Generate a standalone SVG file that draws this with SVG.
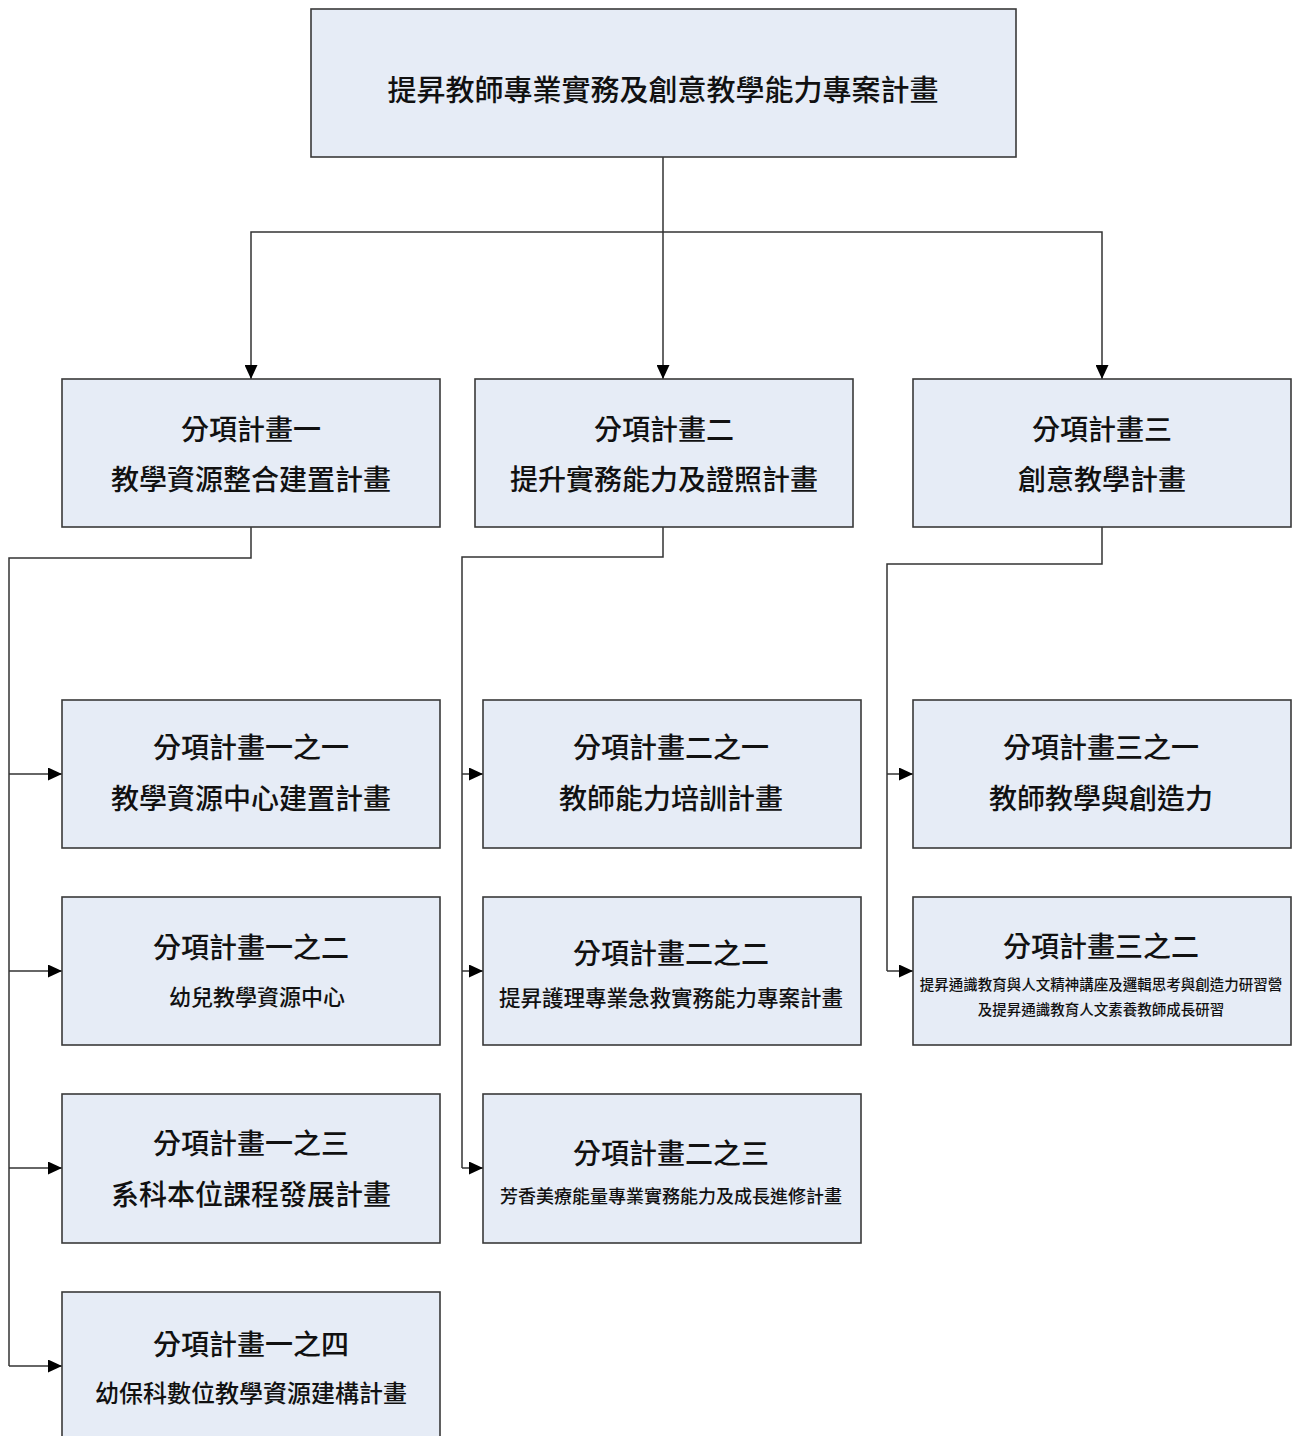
<svg xmlns="http://www.w3.org/2000/svg" width="1293" height="1436" viewBox="0 0 1293 1436">
<style>
.box{fill:#E6ECF6;stroke:#3a3a3a;stroke-width:1.6}
.t{font-family:"Noto Sans CJK TC","Noto Sans CJK SC",sans-serif;text-anchor:middle;dominant-baseline:central;fill:#111;font-weight:500}
.s29{font-size:29px}.s28{font-size:28px}.s24{font-size:24px}.s22{font-size:22px}.s21{font-size:21.5px}.s18{font-size:18px}.s14{font-size:14.5px}
.c{fill:none;stroke:#333;stroke-width:1.5}
</style>
<defs>
<marker id="ah" markerUnits="userSpaceOnUse" markerWidth="14" markerHeight="13" refX="14" refY="6.5" orient="auto">
<path d="M0,0 L14,6.5 L0,13 Z" fill="#000"/>
</marker>
</defs>
<g id="connectors">
<path class="c" d="M663,157 V379" marker-end="url(#ah)"/>
<path class="c" d="M663,232 H251 V379" marker-end="url(#ah)"/>
<path class="c" d="M663,232 H1102 V379" marker-end="url(#ah)"/>
<path class="c" d="M251,527 V558 H9 V1366"/>
<path class="c" d="M9,774 H62" marker-end="url(#ah)"/>
<path class="c" d="M9,971 H62" marker-end="url(#ah)"/>
<path class="c" d="M9,1168 H62" marker-end="url(#ah)"/>
<path class="c" d="M9,1366 H62" marker-end="url(#ah)"/>
<path class="c" d="M663,527 V557 H462 V1168"/>
<path class="c" d="M462,774 H483" marker-end="url(#ah)"/>
<path class="c" d="M462,971 H483" marker-end="url(#ah)"/>
<path class="c" d="M462,1168 H483" marker-end="url(#ah)"/>
<path class="c" d="M1102,527 V564 H887 V971"/>
<path class="c" d="M887,774 H913" marker-end="url(#ah)"/>
<path class="c" d="M887,971 H913" marker-end="url(#ah)"/>
</g>
<g id="root">
<rect class="box" x="311" y="9" width="705" height="148"/>
<text class="t s29" x="663" y="88">提昇教師專業實務及創意教學能力專案計畫</text>
</g>
<g id="p1">
<rect class="box" x="62" y="379" width="378" height="148"/>
<text class="t s28" x="251" y="428">分項計畫一</text>
<text class="t s28" x="251" y="478">教學資源整合建置計畫</text>
</g>
<g id="p2">
<rect class="box" x="475" y="379" width="378" height="148"/>
<text class="t s28" x="664" y="428">分項計畫二</text>
<text class="t s28" x="664" y="478">提升實務能力及證照計畫</text>
</g>
<g id="p3">
<rect class="box" x="913" y="379" width="378" height="148"/>
<text class="t s28" x="1102" y="428">分項計畫三</text>
<text class="t s28" x="1102" y="478">創意教學計畫</text>
</g>
<g id="p1-1">
<rect class="box" x="62" y="700" width="378" height="148"/>
<text class="t s28" x="251" y="746">分項計畫一之一</text>
<text class="t s28" x="251" y="797">教學資源中心建置計畫</text>
</g>
<g id="p1-2">
<rect class="box" x="62" y="897" width="378" height="148"/>
<text class="t s28" x="251" y="946">分項計畫一之二</text>
<text class="t s22" x="257" y="995">幼兒教學資源中心</text>
</g>
<g id="p1-3">
<rect class="box" x="62" y="1094" width="378" height="149"/>
<text class="t s28" x="251" y="1142">分項計畫一之三</text>
<text class="t s28" x="251" y="1193">系科本位課程發展計畫</text>
</g>
<g id="p1-4">
<rect class="box" x="62" y="1292" width="378" height="148"/>
<text class="t s28" x="251" y="1343">分項計畫一之四</text>
<text class="t s24" x="251" y="1391">幼保科數位教學資源建構計畫</text>
</g>
<g id="p2-1">
<rect class="box" x="483" y="700" width="378" height="148"/>
<text class="t s28" x="671" y="746">分項計畫二之一</text>
<text class="t s28" x="671" y="797">教師能力培訓計畫</text>
</g>
<g id="p2-2">
<rect class="box" x="483" y="897" width="378" height="148"/>
<text class="t s28" x="671" y="952">分項計畫二之二</text>
<text class="t s21" x="671" y="996">提昇護理專業急救實務能力專案計畫</text>
</g>
<g id="p2-3">
<rect class="box" x="483" y="1094" width="378" height="149"/>
<text class="t s28" x="671" y="1152">分項計畫二之三</text>
<text class="t s18" x="671" y="1195">芳香美療能量專業實務能力及成長進修計畫</text>
</g>
<g id="p3-1">
<rect class="box" x="913" y="700" width="378" height="148"/>
<text class="t s28" x="1101" y="746">分項計畫三之一</text>
<text class="t s28" x="1101" y="797">教師教學與創造力</text>
</g>
<g id="p3-2">
<rect class="box" x="913" y="897" width="378" height="148"/>
<text class="t s28" x="1101" y="945">分項計畫三之二</text>
<text class="t s14" x="1101" y="983">提昇通識教育與人文精神講座及邏輯思考與創造力研習營</text>
<text class="t s14" x="1101" y="1008">及提昇通識教育人文素養教師成長研習</text>
</g>
</svg>
